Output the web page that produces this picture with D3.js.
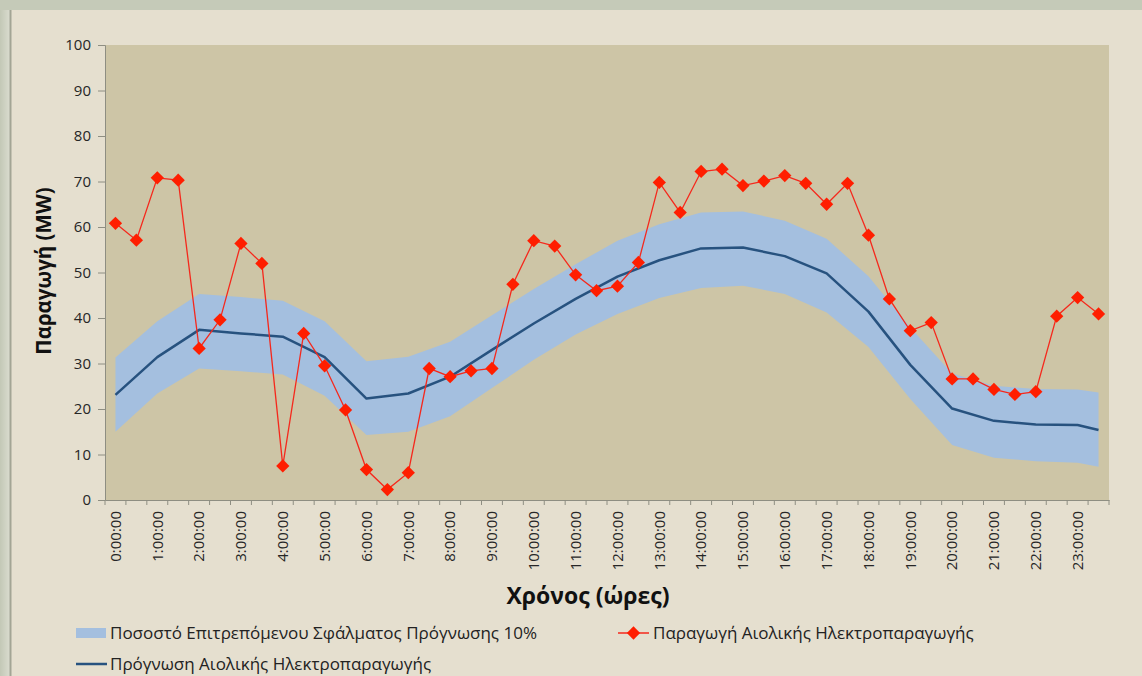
<!DOCTYPE html>
<html>
<head>
<meta charset="utf-8">
<script src="https://cdn.jsdelivr.net/npm/d3@7"></script>
<style>
  body { margin: 0; padding: 0; background: #c5cab8; }
  svg { display: block; font-family: "Open Sans", "Noto Sans", sans-serif; }
</style>
</head>
<body>
<div id="chart"></div>
<script>
// κατηγορίες ανά μισή ώρα
var categories = ["0:00:00","0:30:00","1:00:00","1:30:00","2:00:00","2:30:00","3:00:00","3:30:00",
  "4:00:00","4:30:00","5:00:00","5:30:00","6:00:00","6:30:00","7:00:00","7:30:00",
  "8:00:00","8:30:00","9:00:00","9:30:00","10:00:00","10:30:00","11:00:00","11:30:00",
  "12:00:00","12:30:00","13:00:00","13:30:00","14:00:00","14:30:00","15:00:00","15:30:00",
  "16:00:00","16:30:00","17:00:00","17:30:00","18:00:00","18:30:00","19:00:00","19:30:00",
  "20:00:00","20:30:00","21:00:00","21:30:00","22:00:00","22:30:00","23:00:00","23:30:00"];

var hourLabels = ["0:00:00","1:00:00","2:00:00","3:00:00","4:00:00","5:00:00","6:00:00","7:00:00",
  "8:00:00","9:00:00","10:00:00","11:00:00","12:00:00","13:00:00","14:00:00","15:00:00",
  "16:00:00","17:00:00","18:00:00","19:00:00","20:00:00","21:00:00","22:00:00","23:00:00"];

var yTicks = [0, 10, 20, 30, 40, 50, 60, 70, 80, 90, 100];

// Παραγωγή Αιολικής Ηλεκτροπαραγωγής (MW)
var production = [60.8, 57.1, 70.8, 70.3, 33.3, 39.6, 56.4, 52.0,
  7.5, 36.6, 29.5, 19.8, 6.7, 2.3, 6.0, 28.9,
  27.1, 28.4, 28.9, 47.4, 57.0, 55.8, 49.5, 46.0,
  47.0, 52.2, 69.8, 63.2, 72.2, 72.7, 69.1, 70.1,
  71.3, 69.6, 65.0, 69.6, 58.2, 44.2, 37.2, 39.0,
  26.6, 26.6, 24.3, 23.2, 23.8, 40.4, 44.5, 40.9];

// Πρόγνωση - σημεία ανά ώρα και το τελευταίο μισάωρο
var forecastTimes = ["0:00:00","1:00:00","2:00:00","3:00:00","4:00:00","5:00:00","6:00:00","7:00:00",
  "8:00:00","9:00:00","10:00:00","11:00:00","12:00:00","13:00:00","14:00:00","15:00:00",
  "16:00:00","17:00:00","18:00:00","19:00:00","20:00:00","21:00:00","22:00:00","23:00:00","23:30:00"];
var forecast = [23.1, 31.4, 37.4, 36.6, 35.9, 31.4, 22.3, 23.4,
  27.1, 33.0, 38.8, 44.2, 49.1, 52.7, 55.3, 55.5,
  53.6, 49.8, 41.4, 29.7, 20.1, 17.4, 16.6, 16.5, 15.4];

// όρια σφάλματος 10%
var bandUpper = [31.3, 39.3, 45.3, 44.6, 43.8, 39.3, 30.5, 31.5,
  34.8, 40.6, 46.4, 51.8, 57.0, 60.6, 63.2, 63.4,
  61.4, 57.4, 49.2, 37.9, 27.8, 25.1, 24.4, 24.3, 23.6];
var bandLower = [15.0, 23.4, 28.9, 28.3, 27.6, 22.9, 14.3, 15.0,
  18.4, 24.6, 30.8, 36.4, 40.9, 44.4, 46.6, 47.1,
  45.3, 41.2, 33.6, 22.2, 12.1, 9.3, 8.5, 8.2, 7.3];

var width = 1142, height = 676;
var plot = { left: 105, right: 1109, top: 45, bottom: 500 };

var svg = d3.select("#chart").append("svg")
  .attr("width", width)
  .attr("height", height);

var defs = svg.append("defs");
var grad = defs.append("linearGradient").attr("id", "leftStrip")
  .attr("x1", "0").attr("x2", "1").attr("y1", "0").attr("y2", "0");
grad.append("stop").attr("offset", "0%").attr("stop-color", "#c3c8b6");
grad.append("stop").attr("offset", "100%").attr("stop-color", "#dadccf");

// φόντα
svg.append("rect").attr("width", width).attr("height", height).attr("fill", "#c5cab8");
svg.append("rect").attr("x", 0).attr("y", 10).attr("width", 10).attr("height", height - 10)
  .attr("fill", "url(#leftStrip)");
svg.append("rect").attr("x", 10).attr("y", 10).attr("width", width - 10).attr("height", height - 10)
  .attr("fill", "#e5dfcf");
svg.append("line").attr("x1", 10.5).attr("x2", 10.5).attr("y1", 10).attr("y2", height)
  .attr("stroke", "#a3a595").attr("stroke-width", 2);

svg.append("rect")
  .attr("x", plot.left).attr("y", plot.top)
  .attr("width", plot.right - plot.left).attr("height", plot.bottom - plot.top)
  .attr("fill", "#cdc5a6");

var x = d3.scaleBand().domain(categories).range([plot.left, plot.right]);
var y = d3.scaleLinear().domain([0, 100]).range([plot.bottom, plot.top]);
var cx = function (c) { return x(c) + x.bandwidth() / 2; };

// ζώνη σφάλματος
var bandData = forecastTimes.map(function (t, i) {
  return { t: t, lo: bandLower[i], hi: bandUpper[i] };
});
svg.append("path")
  .datum(bandData)
  .attr("fill", "#a4bfdf")
  .attr("d", d3.area()
    .x(function (d) { return cx(d.t); })
    .y0(function (d) { return y(d.lo); })
    .y1(function (d) { return y(d.hi); }));

// γραμμή πρόγνωσης
svg.append("path")
  .datum(forecastTimes.map(function (t, i) { return { t: t, v: forecast[i] }; }))
  .attr("fill", "none")
  .attr("stroke", "#27527f")
  .attr("stroke-width", 2.5)
  .attr("stroke-linejoin", "round")
  .attr("d", d3.line()
    .x(function (d) { return cx(d.t); })
    .y(function (d) { return y(d.v); }));

// παραγωγή
var prodData = categories.map(function (c, i) { return { t: c, v: production[i] }; });
svg.append("path")
  .datum(prodData)
  .attr("fill", "none")
  .attr("stroke", "#f5281c")
  .attr("stroke-width", 1.3)
  .attr("d", d3.line()
    .x(function (d) { return cx(d.t); })
    .y(function (d) { return y(d.v); }));

var diamond = d3.symbol().type(d3.symbolSquare).size(88);
svg.selectAll(".marker")
  .data(prodData)
  .enter()
  .append("path")
  .attr("class", "marker")
  .attr("fill", "#ff1e00")
  .attr("d", diamond)
  .attr("transform", function (d) { return "translate(" + cx(d.t) + "," + y(d.v) + ") rotate(45)"; });

// άξονας y
var yAxis = svg.append("g")
  .attr("transform", "translate(" + plot.left + ",0)")
  .call(d3.axisLeft(y).tickValues(yTicks).tickSize(7).tickPadding(7));
yAxis.select(".domain").attr("stroke", "#8e8e82");
yAxis.selectAll(".tick line").attr("stroke", "#8e8e82");
yAxis.selectAll(".tick text")
  .attr("fill", "#262626")
  .style("font-size", "15px")
  .style("font-family", "'Open Sans', sans-serif");

// άξονας x
var xAxis = svg.append("g")
  .attr("transform", "translate(0," + plot.bottom + ")")
  .call(d3.axisBottom(x).tickValues(hourLabels).tickSize(0));
xAxis.select(".domain").attr("stroke", "#8e8e82");
xAxis.selectAll(".tick text")
  .attr("transform", "rotate(-90)")
  .attr("x", -11)
  .attr("y", 0)
  .attr("dy", "0.35em")
  .attr("fill", "#262626")
  .style("text-anchor", "end")
  .style("font-size", "15px")
  .style("font-family", "'Open Sans', sans-serif");

// μικρές γραμμές ανάμεσα στις κατηγορίες
svg.append("g").selectAll("line")
  .data(categories.concat(["end"]))
  .enter()
  .append("line")
  .attr("x1", function (d) { return d === "end" ? plot.right : x(d); })
  .attr("x2", function (d) { return d === "end" ? plot.right : x(d); })
  .attr("y1", plot.bottom)
  .attr("y2", plot.bottom + 5)
  .attr("stroke", "#8e8e82");

// τίτλοι αξόνων
svg.append("text")
  .attr("transform", "translate(43,271) rotate(-90)")
  .attr("text-anchor", "middle")
  .attr("dominant-baseline", "central")
  .attr("fill", "#111")
  .style("font-size", "20.5px")
  .style("font-weight", "bold")
  .text("Παραγωγή (MW)");

svg.append("text")
  .attr("x", 588)
  .attr("y", 595)
  .attr("text-anchor", "middle")
  .attr("dominant-baseline", "central")
  .attr("fill", "#111")
  .style("font-size", "23px")
  .style("font-weight", "bold")
  .text("Χρόνος (ώρες)");

// υπόμνημα
var legend = svg.append("g").style("font-size", "17px").attr("fill", "#222");

legend.append("rect").attr("x", 76).attr("y", 628).attr("width", 30).attr("height", 10).attr("fill", "#a4bfdf");
legend.append("text").attr("x", 110).attr("y", 632).attr("dominant-baseline", "central")
  .text("Ποσοστό Επιτρεπόμενου Σφάλματος Πρόγνωσης 10%");

legend.append("line").attr("x1", 618).attr("x2", 649).attr("y1", 633).attr("y2", 633)
  .attr("stroke", "#f5281c").attr("stroke-width", 1.5);
legend.append("path").attr("d", diamond).attr("fill", "#ff1e00")
  .attr("transform", "translate(633.5,633) rotate(45)");
legend.append("text").attr("x", 653).attr("y", 632).attr("dominant-baseline", "central")
  .text("Παραγωγή Αιολικής Ηλεκτροπαραγωγής");

legend.append("line").attr("x1", 76).attr("x2", 107).attr("y1", 664).attr("y2", 664)
  .attr("stroke", "#27527f").attr("stroke-width", 2.5);
legend.append("text").attr("x", 110).attr("y", 663).attr("dominant-baseline", "central")
  .text("Πρόγνωση Αιολικής Ηλεκτροπαραγωγής");
</script>
</body>
</html>
